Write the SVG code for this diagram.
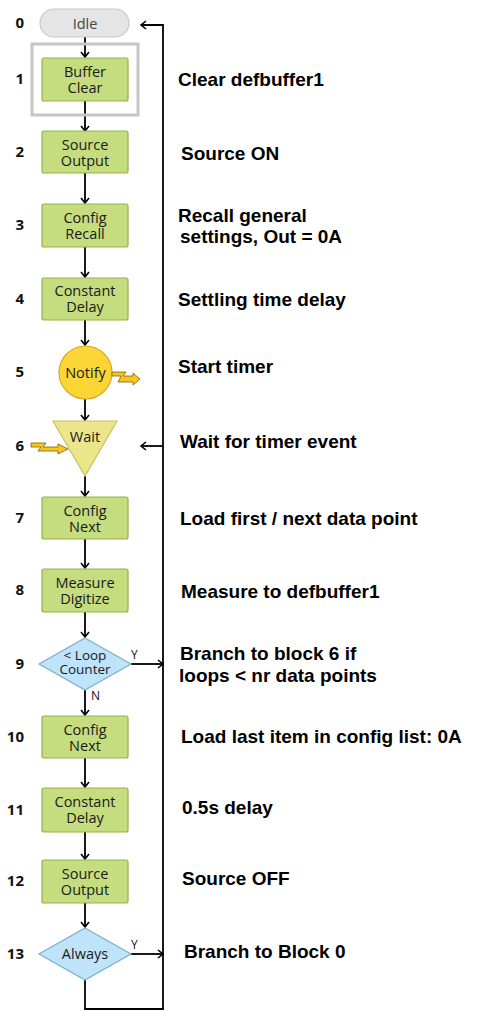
<svg xmlns="http://www.w3.org/2000/svg" width="486" height="1034" viewBox="0 0 486 1034">
<defs>
<marker id="arr" markerUnits="userSpaceOnUse" markerWidth="12" markerHeight="12" viewBox="-7 -6 8 12" refX="0" refY="0" orient="auto">
<path d="M-5,-4 L0,0 L-5,4" fill="none" stroke="#000" stroke-width="1.6"/>
</marker>
</defs>
<style>
.box{fill:#c5dc7f;stroke:#93b24a;stroke-width:1.2}
.nt{font-family:"Open Sans","Noto Sans",sans-serif;font-size:14.5px;fill:#1a1a1a;text-anchor:middle}
.num{font-family:"Open Sans","Noto Sans",sans-serif;font-size:15px;font-weight:bold;fill:#111;text-anchor:end}
.lab{font-family:"Liberation Sans",Arial,sans-serif;font-size:19px;font-weight:bold;fill:#000}
.yn{font-family:"Open Sans","Noto Sans",sans-serif;font-size:12px;fill:#111}
.c{fill:none;stroke:#000;stroke-width:1.8}
.bolt{fill:#f7c51e;stroke:#7a6000;stroke-width:0.8}
.dia{fill:#bfe3f8;stroke:#78b0cc;stroke-width:1.2}
</style>
<g id="connectors">
<line class="c" x1="85" y1="36" x2="85" y2="57" marker-end="url(#arr)"/>
<line class="c" x1="85" y1="101" x2="85" y2="131" marker-end="url(#arr)"/>
<line class="c" x1="85" y1="173" x2="85" y2="203" marker-end="url(#arr)"/>
<line class="c" x1="85" y1="247" x2="85" y2="277" marker-end="url(#arr)"/>
<line class="c" x1="85" y1="320" x2="85" y2="345" marker-end="url(#arr)"/>
<line class="c" x1="85" y1="399" x2="85" y2="420" marker-end="url(#arr)"/>
<line class="c" x1="85" y1="476" x2="85" y2="496" marker-end="url(#arr)"/>
<line class="c" x1="85" y1="539" x2="85" y2="568" marker-end="url(#arr)"/>
<line class="c" x1="85" y1="612" x2="85" y2="637" marker-end="url(#arr)"/>
<line class="c" x1="85" y1="690" x2="85" y2="715" marker-end="url(#arr)"/>
<line class="c" x1="85" y1="758" x2="85" y2="787" marker-end="url(#arr)"/>
<line class="c" x1="85" y1="832" x2="85" y2="859" marker-end="url(#arr)"/>
<line class="c" x1="85" y1="903" x2="85" y2="927" marker-end="url(#arr)"/>
<line class="c" x1="131" y1="664" x2="163" y2="664" marker-end="url(#arr)"/>
<line class="c" x1="131" y1="954" x2="163" y2="954" marker-end="url(#arr)"/>
<polyline class="c" points="85,980 85,1009 163,1009 163,25 141,25" marker-end="url(#arr)"/>
<line class="c" x1="163" y1="446" x2="141" y2="446" marker-end="url(#arr)"/>
<text class="yn" x="131" y="659">Y</text>
<text class="yn" x="91" y="700">N</text>
<text class="yn" x="131" y="949">Y</text>
</g>
<g id="n0">
<rect x="40" y="9" width="89" height="28" rx="14" fill="#e5e5e5" stroke="#c9c9c9" stroke-width="1.2"/>
<text class="nt" x="85" y="29" style="fill:#444">Idle</text>
<text class="num" x="24" y="28">0</text>
</g>
<g id="n1">
<rect x="32" y="44" width="106" height="71" fill="none" stroke="#c6c6c6" stroke-width="3"/>
<rect class="box" x="42" y="58" width="86" height="43" rx="2"/>
<text class="nt" x="85" y="77">Buffer<tspan x="85" dy="16">Clear</tspan></text>
<text class="num" x="24" y="84">1</text>
<text class="lab" x="178" y="86">Clear defbuffer1</text>
</g>
<g id="n2">
<rect class="box" x="42" y="131" width="86" height="42" rx="2"/>
<text class="nt" x="85" y="150">Source<tspan x="85" dy="16">Output</tspan></text>
<text class="num" x="24" y="157">2</text>
<text class="lab" x="181" y="160">Source ON</text>
</g>
<g id="n3">
<rect class="box" x="42" y="204" width="86" height="43" rx="2"/>
<text class="nt" x="85" y="223">Config<tspan x="85" dy="16">Recall</tspan></text>
<text class="num" x="24" y="230">3</text>
<text class="lab" x="178" y="222">Recall general<tspan x="180" dy="21">settings, Out = 0A</tspan></text>
</g>
<g id="n4">
<rect class="box" x="42" y="278" width="86" height="42" rx="2"/>
<text class="nt" x="85" y="296">Constant<tspan x="85" dy="16">Delay</tspan></text>
<text class="num" x="24" y="304">4</text>
<text class="lab" x="178" y="306">Settling time delay</text>
</g>
<g id="n5">
<circle cx="85.5" cy="372.5" r="26.5" fill="#fcd536" stroke="#d8aa22" stroke-width="1.2"/>
<text class="nt" x="85.5" y="378">Notify</text>
<path class="bolt" d="M112,372 L126,372 L123,376 L133,376 L133,373 L140,379 L133,385 L133,382 L118,382 L121,376 L112,376 Z"/>
<text class="num" x="24" y="377">5</text>
<text class="lab" x="178" y="373">Start timer</text>
</g>
<g id="n6">
<polygon points="53,421 117,421 85,476" fill="#ece68a" stroke="#c9c163" stroke-width="1.2"/>
<text class="nt" x="85" y="442">Wait</text>
<path class="bolt" d="M31,443 L46,443 L43,447 L58,447 L58,444 L68,449 L58,454 L58,451 L38,451 L41,447 L31,447 Z"/>
<text class="num" x="24" y="451">6</text>
<text class="lab" x="180" y="448">Wait for timer event</text>
</g>
<g id="n7">
<rect class="box" x="42" y="497" width="86" height="42" rx="2"/>
<text class="nt" x="85" y="516">Config<tspan x="85" dy="16">Next</tspan></text>
<text class="num" x="24" y="523">7</text>
<text class="lab" x="180" y="525">Load first / next data point</text>
</g>
<g id="n8">
<rect class="box" x="42" y="569" width="86" height="43" rx="2"/>
<text class="nt" x="85" y="588">Measure<tspan x="85" dy="16">Digitize</tspan></text>
<text class="num" x="24" y="595">8</text>
<text class="lab" x="181" y="598">Measure to defbuffer1</text>
</g>
<g id="n9">
<polygon class="dia" points="85,638 131,664 85,690 39,664"/>
<text class="nt" x="85" y="660" style="font-size:13.5px">&lt; Loop<tspan x="85" dy="14">Counter</tspan></text>
<text class="num" x="24" y="669">9</text>
<text class="lab" x="180" y="660">Branch to block 6 if<tspan x="179" dy="22">loops &lt; nr data points</tspan></text>
</g>
<g id="n10">
<rect class="box" x="42" y="716" width="86" height="42" rx="2"/>
<text class="nt" x="85" y="735">Config<tspan x="85" dy="16">Next</tspan></text>
<text class="num" x="24" y="742">10</text>
<text class="lab" x="181" y="743">Load last item in config list: 0A</text>
</g>
<g id="n11">
<rect class="box" x="42" y="788" width="86" height="44" rx="2"/>
<text class="nt" x="85" y="807">Constant<tspan x="85" dy="16">Delay</tspan></text>
<text class="num" x="24" y="815">11</text>
<text class="lab" x="182" y="814">0.5s delay</text>
</g>
<g id="n12">
<rect class="box" x="42" y="860" width="86" height="43" rx="2"/>
<text class="nt" x="85" y="879">Source<tspan x="85" dy="16">Output</tspan></text>
<text class="num" x="24" y="886">12</text>
<text class="lab" x="182" y="885">Source OFF</text>
</g>
<g id="n13">
<polygon class="dia" points="85,928 131,954 85,980 39,954"/>
<text class="nt" x="85" y="959">Always</text>
<text class="num" x="24" y="959">13</text>
<text class="lab" x="184" y="958">Branch to Block 0</text>
</g>
</svg>
